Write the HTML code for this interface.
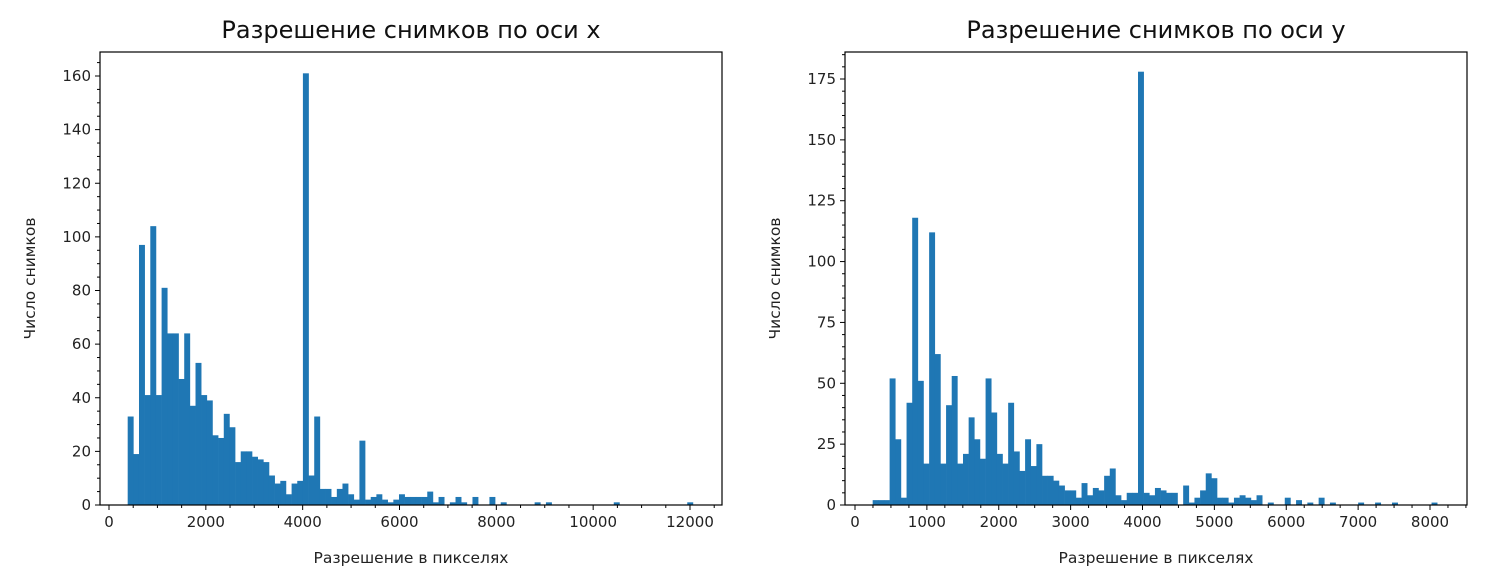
<!DOCTYPE html>
<html><head><meta charset="utf-8">
<style>
html,body{margin:0;padding:0;background:#fff;}
svg{display:block;font-family:"DejaVu Sans","Liberation Sans",sans-serif;}
</style></head>
<body>
<svg id="fig" width="1488" height="585" viewBox="0 0 1488 585" xmlns="http://www.w3.org/2000/svg"></svg>
<script>
// Left histogram: resolution along x
const leftCounts = [33,19,97,41,104,41,81,64,64,47,64,37,53,41,39,26,25,34,29,16,20,20,18,17,16,11,8,9,4,8,9,161,11,33,6,6,3,6,8,4,2,24,2,3,4,2,1,2,
  4,3,3,3,3,5,1,3,0,1,3,1,0,3,0,0,3,0,1,0,0,0,0,0,1,0,1,0,0,0,0,0,0,0,0,0,0,0,1,0,0,0,0,0,0,0,0,0,0,0,0,1];
const leftRange = [386, 12060];
const leftXTicks = [0,2000,4000,6000,8000,10000,12000];
const leftYTicks = [0,20,40,60,80,100,120,140,160];
// Right histogram: resolution along y
const rightCounts = [2,2,2,52,27,3,42,118,51,17,112,62,17,41,53,17,21,36,27,19,52,38,21,17,42,22,14,27,16,25,12,12,10,8,6,6,3,9,4,7,6,12,15,4,2,5,5,178,
  5,4,7,6,5,5,0,8,1,3,6,13,11,3,3,1,3,4,3,2,4,0,1,0,0,3,0,2,0,1,0,3,0,1,
  0,0,0,0,1,0,0,1,0,0,1,0,0,0,0,0,0,1];
const rightRange = [246, 8100];
const rightXTicks = [0,1000,2000,3000,4000,5000,6000,7000,8000];
const rightYTicks = [0,25,50,75,100,125,150,175];

const NS = "http://www.w3.org/2000/svg";
const svg = document.getElementById('fig');
function mk(tag, attrs, parent){
  const e = document.createElementNS(NS, tag);
  for (const k in attrs) e.setAttribute(k, attrs[k]);
  (parent||svg).appendChild(e);
  return e;
}

function drawPanel(cfg){
  const g = mk('g', {});
  
  
  const sx = v => cfg.x0px + (v - 0) * cfg.pxPerX;
  const sy = v => cfg.y0px - v * cfg.pxPerY;
  const n = cfg.counts.length;
  const w = (cfg.range[1] - cfg.range[0]) / n;
  cfg.counts.forEach((c, i) => {
    if (c <= 0) return;
    const a = sx(cfg.range[0] + i * w), b = sx(cfg.range[0] + (i + 1) * w);
    const r = mk('rect', {x: a, y: sy(c), width: Math.max(b - a, 0.5) + 0.3, height: sy(0) - sy(c), fill: '#1f77b4'}, g);
    
    
  });
  // frame
  const fr = mk('rect', {x: cfg.left, y: cfg.top, width: cfg.right - cfg.left, height: cfg.bottom - cfg.top, fill: 'none', stroke: '#000', 'stroke-width': 1.2}, g);
  
  
  // x ticks
  const xt = mk('g', {}, g);
  
  
  const xmaj = cfg.xTicks[1] - cfg.xTicks[0];
  for (let v = cfg.xTicks[0]; ; v += xmaj / 4) {
    const px = sx(v);
    if (px > cfg.right) break;
    const major = Math.abs(v / xmaj - Math.round(v / xmaj)) < 1e-6;
    mk('line', {x1: px, x2: px, y1: cfg.bottom, y2: cfg.bottom + (major ? 5 : 3), stroke: '#000', 'stroke-width': 1}, xt);
  }
  cfg.xTicks.forEach(v => {
    const t = mk('text', {x: sx(v), y: cfg.bottom + 22, 'text-anchor': 'middle', 'font-size': 15, fill: '#222'}, xt);
    t.textContent = v;
  });
  // y ticks
  const yt = mk('g', {}, g);
  
  
  for (let v = 0; ; v += 5) {
    const py = sy(v);
    if (py < cfg.top) break;
    const major = v % cfg.yStep === 0;
    mk('line', {x1: cfg.left, x2: cfg.left - (major ? 5 : 3), y1: py, y2: py, stroke: '#000', 'stroke-width': 1}, yt);
  }
  cfg.yTicks.forEach(v => {
    const t = mk('text', {x: cfg.left - 9, y: sy(v) + 5, 'text-anchor': 'end', 'font-size': 15, fill: '#222'}, yt);
    t.textContent = v;
  });
  const title = mk('text', {x: (cfg.left + cfg.right) / 2, y: 38, 'text-anchor': 'middle', 'font-size': 24, fill: '#111'}, g);
  title.textContent = cfg.title;
  
  
  const xl = mk('text', {x: (cfg.left + cfg.right) / 2, y: 563, 'text-anchor': 'middle', 'font-size': 15.5, fill: '#222'}, g);
  xl.textContent = 'Разрешение в пикселях';
  
  
  const yl = mk('text', {x: 0, y: 0, 'text-anchor': 'middle', 'font-size': 15.5, fill: '#222', transform: `translate(${cfg.left - cfg.yLabOff},${(cfg.top + cfg.bottom) / 2}) rotate(-90)`}, g);
  yl.textContent = 'Число снимков';
  
  
}

drawPanel({name: 'histogram-x-resolution', title: 'Разрешение снимков по оси x', counts: leftCounts, range: leftRange,
  xTicks: leftXTicks, yTicks: leftYTicks, yStep: 20,
  left: 100, right: 722, top: 52, bottom: 505, x0px: 109, pxPerX: 581 / 12000, y0px: 505, pxPerY: 429 / 160, yLabOff: 65});
drawPanel({name: 'histogram-y-resolution', title: 'Разрешение снимков по оси y', counts: rightCounts, range: rightRange,
  xTicks: rightXTicks, yTicks: rightYTicks, yStep: 25,
  left: 845, right: 1467, top: 52, bottom: 505, x0px: 855, pxPerX: 575 / 8000, y0px: 505, pxPerY: 426 / 175, yLabOff: 65});
</script>
</body></html>
